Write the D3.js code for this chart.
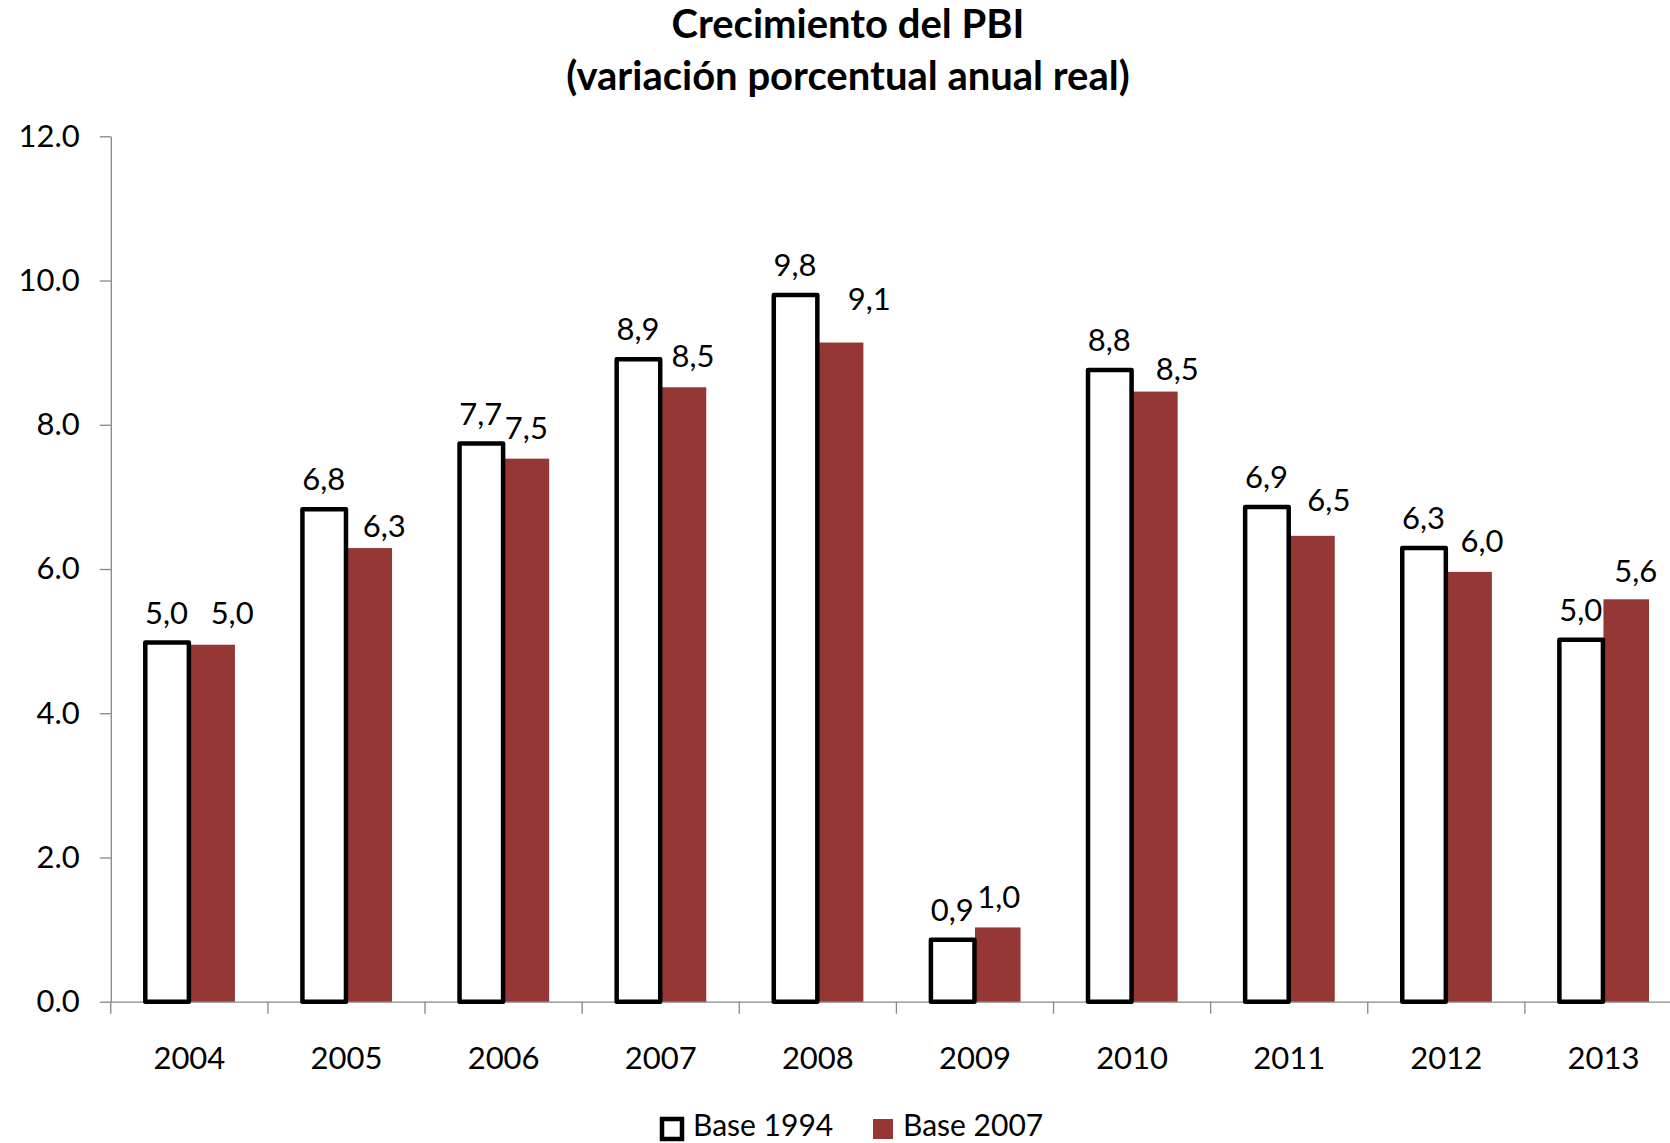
<!DOCTYPE html>
<html>
<head>
<meta charset="utf-8">
<script src="https://cdn.jsdelivr.net/npm/d3@7/dist/d3.min.js"></script>
<style>
  html, body { margin: 0; padding: 0; background: #fff; }
  svg { display: block; font-family: Lato, "Open Sans", sans-serif; }
</style>
</head>
<body>
<svg id="chart" width="1670" height="1143"></svg>
<script>
// ---- Data ----
const years = ["2004","2005","2006","2007","2008","2009","2010","2011","2012","2013"];
const base1994 = [4.98, 6.83, 7.74, 8.91, 9.80, 0.86, 8.76, 6.86, 6.29, 5.02];
const base2007 = [4.95, 6.29, 7.53, 8.52, 9.14, 1.03, 8.46, 6.46, 5.96, 5.58];
const seriesNames = ["Base 1994", "Base 2007"];
const yTicks = [0, 2, 4, 6, 8, 10, 12];
const titleLines = ["Crecimiento del PBI", "(variación porcentual anual real)"];

// ---- Layout ----
const W = 1670, H = 1143;
const plotLeft = 110.8, plotRight = 1682, plotTop = 136.3, plotBottom = 1001.7;
const RED = "#953735";
const AXIS = "#878787";
const FONT = 31;
// manual nudges of the Base 2007 data labels (as placed in the original)
const redLabelDx = [20, 15, 0, 9.6, 28.7, 1, 22.5, 16.9, 12.9, 9.6];
const redLabelDy = [-1.6, 8.3, -0.5, -1.6, -13.3, 0, 7.7, -6, -1, 1.6];

const svg = d3.select("#chart");

const x0 = d3.scaleBand().domain(years).range([plotLeft, plotRight]).paddingInner(0).paddingOuter(0);
const x1 = d3.scaleBand().domain(seriesNames).range([33, x0.bandwidth() - 33]).padding(0);
const y = d3.scaleLinear().domain([0, 12]).range([plotBottom, plotTop]);

// Title
svg.append("g").selectAll("text").data(titleLines).join("text")
  .attr("x", 848)
  .attr("y", (d, i) => 38 + i * 52)
  .attr("text-anchor", "middle")
  .attr("font-weight", "bold")
  .attr("font-size", 40)
  .attr("fill", "#000")
  .text(d => d);

// Y axis
const yAxis = d3.axisLeft(y).tickValues(yTicks).tickFormat(d3.format(".1f"))
  .tickSize(11).tickSizeOuter(0).tickPadding(20);
const gy = svg.append("g").attr("transform", `translate(${plotLeft},0)`).call(yAxis);
gy.select(".domain").attr("stroke", AXIS).attr("stroke-width", 1.3);
gy.selectAll(".tick line").attr("stroke", AXIS).attr("stroke-width", 1.3);
gy.selectAll(".tick text").attr("font-size", FONT).attr("font-family", "Lato, sans-serif").attr("fill", "#000");

// X axis
const xAxis = d3.axisBottom(x0).tickSize(0).tickSizeOuter(0).tickPadding(0);
const gx = svg.append("g").attr("transform", `translate(0,${plotBottom})`).call(xAxis);
gx.select(".domain").attr("stroke", AXIS).attr("stroke-width", 1.3);
gx.selectAll(".tick text").attr("font-size", FONT).attr("font-family", "Lato, sans-serif")
  .attr("fill", "#000").attr("y", 67).attr("dy", 0);
// boundary ticks
const bounds = years.map(d => x0(d)).concat([x0.range()[1]]);
svg.append("g").selectAll("line").data(bounds).join("line")
  .attr("x1", d => d).attr("x2", d => d)
  .attr("y1", plotBottom).attr("y2", plotBottom + 12)
  .attr("stroke", AXIS).attr("stroke-width", 1.3);

const fmt = v => d3.format(".1f")(v).replace(".", ",");

// Bars
const groups = svg.append("g").selectAll("g").data(years).join("g")
  .attr("transform", d => `translate(${x0(d)},0)`);

// red bars first
groups.append("rect")
  .attr("x", x1("Base 2007"))
  .attr("width", x1.bandwidth())
  .attr("y", (d, i) => y(base2007[i]))
  .attr("height", (d, i) => y(0) - y(base2007[i]))
  .attr("fill", RED);

// white bars with black outline on top
groups.append("rect")
  .attr("x", x1("Base 1994") + 1.5)
  .attr("width", x1.bandwidth() - 2)
  .attr("y", (d, i) => y(base1994[i]))
  .attr("height", (d, i) => y(0) - y(base1994[i]))
  .attr("fill", "#fff")
  .attr("stroke", "#000")
  .attr("stroke-width", 4.5)
  .attr("stroke-linejoin", "round");

// Labels
groups.append("text")
  .attr("x", x1("Base 1994") + x1.bandwidth() / 2)
  .attr("y", (d, i) => y(base1994[i]) - 19)
  .attr("text-anchor", "middle").attr("font-size", FONT).attr("fill", "#000")
  .text((d, i) => fmt(base1994[i]));
groups.append("text")
  .attr("x", (d, i) => x1("Base 2007") + x1.bandwidth() / 2 + redLabelDx[i])
  .attr("y", (d, i) => y(base2007[i]) - 19 + redLabelDy[i])
  .attr("text-anchor", "middle").attr("font-size", FONT).attr("fill", "#000")
  .text((d, i) => fmt(base2007[i]));

// Legend
const legend = svg.append("g");
legend.append("rect").attr("x", 662).attr("y", 1119).attr("width", 20).attr("height", 20)
  .attr("fill", "#fff").attr("stroke", "#000").attr("stroke-width", 4.5);
legend.append("text").attr("x", 693).attr("y", 1136).attr("font-size", 30).attr("fill", "#000").text(seriesNames[0]);
legend.append("rect").attr("x", 873).attr("y", 1119).attr("width", 20).attr("height", 20).attr("fill", RED);
legend.append("text").attr("x", 903).attr("y", 1136).attr("font-size", 30).attr("fill", "#000").text(seriesNames[1]);
</script>
</body>
</html>
